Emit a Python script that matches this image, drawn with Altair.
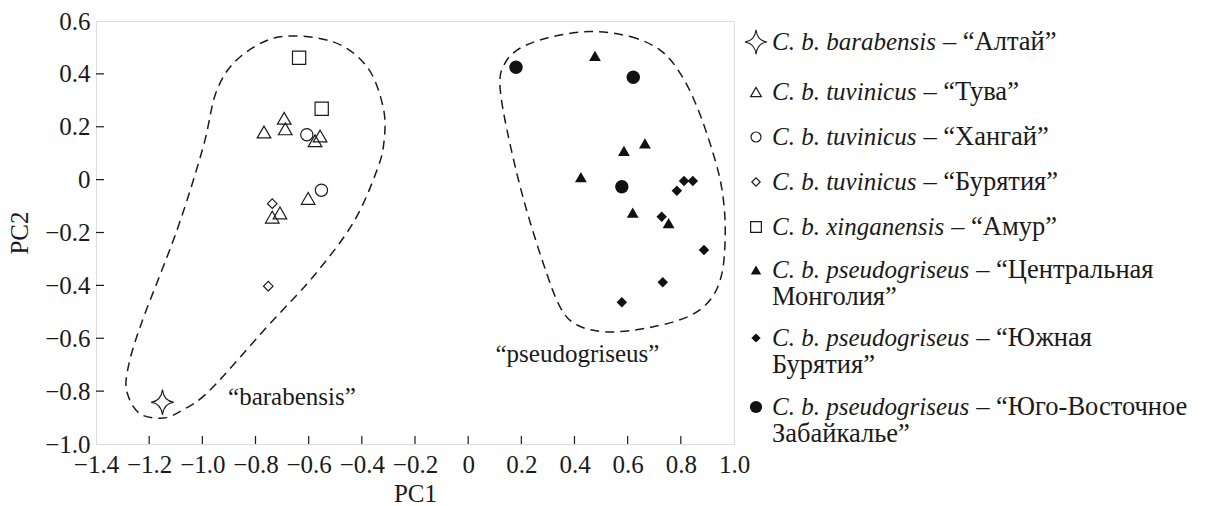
import altair as alt
import pandas as pd

# ---------------- data ----------------
# C. b. barabensis – "Алтай" (open four-point star)
altai_pc1 = [-1.150]
altai_pc2 = [-0.842]
# C. b. tuvinicus – "Тува" (open triangles)
tuva_pc1 = [-0.768, -0.692, -0.688, -0.557, -0.576, -0.602, -0.708, -0.737]
tuva_pc2 = [0.180, 0.232, 0.192, 0.165, 0.147, -0.071, -0.126, -0.142]
# C. b. tuvinicus – "Хангай" (open circles)
khangai_pc1 = [-0.607, -0.552]
khangai_pc2 = [0.170, -0.040]
# C. b. tuvinicus – "Бурятия" (open diamonds)
buryatia_pc1 = [-0.737, -0.752]
buryatia_pc2 = [-0.091, -0.403]
# C. b. xinganensis – "Амур" (open squares)
amur_pc1 = [-0.636, -0.551]
amur_pc2 = [0.461, 0.268]
# C. b. pseudogriseus – "Центральная Монголия" (filled triangles)
cmong_pc1 = [0.477, 0.665, 0.586, 0.424, 0.619, 0.754]
cmong_pc2 = [0.468, 0.137, 0.109, 0.009, -0.125, -0.165]
# C. b. pseudogriseus – "Южная Бурятия" (filled diamonds)
sbur_pc1 = [0.812, 0.845, 0.785, 0.728, 0.887, 0.732, 0.578]
sbur_pc2 = [-0.005, -0.005, -0.042, -0.140, -0.266, -0.388, -0.464]
# C. b. pseudogriseus – "Юго-Восточное Забайкалье" (filled circles)
sezab_pc1 = [0.180, 0.621, 0.578]
sezab_pc2 = [0.425, 0.387, -0.027]

# hand-drawn dashed outlines (vertices, PC units)
barab_hull_pc1 = [-0.708, -0.508, -0.380, -0.320, -0.316, -0.343, -0.433, -0.584, -0.757,
                  -0.971, -1.073, -1.148, -1.234, -1.280, -1.283, -1.234, -1.095, -0.997,
                  -0.945, -0.858]
barab_hull_pc2 = [0.540, 0.521, 0.426, 0.275, 0.150, 0.036, -0.164, -0.368, -0.557,
                  -0.796, -0.871, -0.902, -0.886, -0.815, -0.731, -0.557, -0.190, 0.123,
                  0.339, 0.464]
pseudo_hull_pc1 = [0.459, 0.609, 0.722, 0.797, 0.861, 0.921, 0.955, 0.967, 0.955, 0.910,
                   0.823, 0.673, 0.523, 0.410, 0.346, 0.282, 0.206, 0.146, 0.120, 0.131,
                   0.184, 0.297]
pseudo_hull_pc2 = [0.560, 0.541, 0.490, 0.403, 0.275, 0.101, -0.039, -0.190, -0.353, -0.455,
                   -0.520, -0.561, -0.576, -0.550, -0.482, -0.315, -0.066, 0.188, 0.350,
                   0.426, 0.490, 0.536]

cluster_labels = ["\u201cbarabensis\u201d", "\u201cpseudogriseus\u201d"]
cluster_label_pc1 = [-0.663, 0.411]
cluster_label_pc2 = [-0.852, -0.690]

x_tick_values = [-1.4, -1.2, -1.0, -0.8, -0.6, -0.4, -0.2, 0, 0.2, 0.4, 0.6, 0.8, 1.0]
y_tick_values = [-1.0, -0.8, -0.6, -0.4, -0.2, 0, 0.2, 0.4, 0.6]
x_inner_ticks = [-1.2, -1.0, -0.8, -0.6, -0.4, -0.2, 0, 0.2, 0.4, 0.6, 0.8]
y_inner_ticks = [-0.8, -0.6, -0.4, -0.2, 0, 0.2, 0.4]

legend_taxa = ["C. b. barabensis", "C. b. tuvinicus", "C. b. tuvinicus", "C. b. tuvinicus",
               "C. b. xinganensis", "C. b. pseudogriseus", "C. b. pseudogriseus",
               "C. b. pseudogriseus"]
legend_places = [["\u2013 \u201cАлтай\u201d"], ["\u2013 \u201cТува\u201d"],
                 ["\u2013 \u201cХангай\u201d"], ["\u2013 \u201cБурятия\u201d"],
                 ["\u2013 \u201cАмур\u201d"],
                 ["\u2013 \u201cЦентральная", "Монголия\u201d"],
                 ["\u2013 \u201cЮжная", "Бурятия\u201d"],
                 ["\u2013 \u201cЮго-Восточное", "Забайкалье\u201d"]]

# ---------------- layout & style ----------------
FONT = "'Liberation Serif', 'Times New Roman', 'DejaVu Serif', serif"
FS = 25
FS_CYR = 26.5
INK = "#1a1a1a"
PLOT_LEFT, PLOT_TOP, W, H = 96, 21, 638, 423
CANVAS_W, CANVAS_H = 1211, 506
LEG_SYM_X, LEG_TEXT_X = 756, 772
LEG_ROW_Y = [42, 92, 137, 182, 227, 270, 338, 407]
LEG_LINE_DY = 27

STAR = "M0,-1 Q0.1,-0.1 0.9,0 Q0.1,0.1 0,1 Q-0.1,0.1 -0.9,0 Q-0.1,-0.1 0,-1 Z"

groups = [
    # pc1, pc2, shape, kind, plot size, legend size
    (altai_pc1, altai_pc2, STAR, "star", 640, 600),
    (tuva_pc1, tuva_pc2, "triangle-up", "open", 185, 115),
    (khangai_pc1, khangai_pc2, "circle", "open", 150, 100),
    (buryatia_pc1, buryatia_pc2, "diamond", "open", 90, 70),
    (amur_pc1, amur_pc2, "square", "open", 175, 115),
    (cmong_pc1, cmong_pc2, "triangle-up", "filled", 140, 110),
    (sbur_pc1, sbur_pc2, "diamond", "filled", 110, 85),
    (sezab_pc1, sezab_pc2, "circle", "filled", 180, 150),
]

X_SCALE = alt.Scale(domain=[-1.4, 1.0], nice=False, zero=False)
Y_SCALE = alt.Scale(domain=[-1.0, 0.6], nice=False, zero=False)
LX_SCALE = alt.Scale(domain=[0, W], range=[0, W], nice=False, zero=False)
LY_SCALE = alt.Scale(domain=[0, H], range=[0, H], nice=False, zero=False)

label_expr = "datum.value == 0 ? '0' : format(datum.value, '.1f')"

x_axis = alt.Axis(values=x_tick_values, title="PC1", labelExpr=label_expr, ticks=False,
                  tickSize=0, domain=False, grid=False, labelPadding=8, labelFont=FONT,
                  labelFontSize=FS, labelColor=INK, labelFlush=False, labelOverlap=False,
                  titleFont=FONT, titleFontSize=FS, titleFontWeight="normal", titleColor=INK,
                  titleY=57, titleBaseline="alphabetic")
y_axis = alt.Axis(values=y_tick_values, title="PC2", labelExpr=label_expr, ticks=False,
                  tickSize=0, domain=False, grid=False, labelPadding=6, labelFont=FONT,
                  labelFontSize=FS, labelColor=INK, labelFlush=False, labelOverlap=False,
                  titleFont=FONT, titleFontSize=FS, titleFontWeight="normal", titleColor=INK,
                  titleX=-69, titleBaseline="alphabetic")


def pc_enc(axes=False):
    return dict(
        x=alt.X("pc1:Q", scale=X_SCALE, axis=x_axis if axes else None),
        y=alt.Y("pc2:Q", scale=Y_SCALE, axis=y_axis if axes else None),
    )


layers = []

# outlines (the first layer carries the axes)
for i, (hx, hy) in enumerate([(barab_hull_pc1, barab_hull_pc2), (pseudo_hull_pc1, pseudo_hull_pc2)]):
    df = pd.DataFrame({"pc1": hx, "pc2": hy, "i": list(range(len(hx)))})
    layers.append(
        alt.Chart(df).mark_line(interpolate="cardinal-closed", strokeDash=[9, 6],
                                stroke=INK, strokeWidth=1.5)
        .encode(order=alt.Order("i:Q"), **pc_enc(axes=(i == 0)))
    )

# inward ticks
layers.append(
    alt.Chart(pd.DataFrame({"pc1": x_inner_ticks})).mark_rule(stroke=INK, strokeWidth=1.2)
    .encode(x=alt.X("pc1:Q", scale=X_SCALE, axis=None), y=alt.value(H), y2=alt.value(H - 8))
)
layers.append(
    alt.Chart(pd.DataFrame({"pc2": y_inner_ticks})).mark_rule(stroke=INK, strokeWidth=1.2)
    .encode(y=alt.Y("pc2:Q", scale=Y_SCALE, axis=None), x=alt.value(0), x2=alt.value(8))
)


def point_mark(shape, kind):
    if kind == "star":
        return alt.Chart().mark_point(shape=shape, filled=True, fill="white", stroke=INK,
                                      strokeWidth=1.1, opacity=1)
    if kind == "open":
        return alt.Chart().mark_point(shape=shape, filled=False, stroke=INK,
                                      strokeWidth=1.2, opacity=1)
    return alt.Chart().mark_point(shape=shape, filled=True, fill="#111111", opacity=1)


# data points
for pc1, pc2, shape, kind, psize, lsize in groups:
    df = pd.DataFrame({"pc1": pc1, "pc2": pc2})
    m = point_mark(shape, kind)
    layers.append(m.properties(data=df).encode(size=alt.value(psize), **pc_enc()))

# cluster labels
layers.append(
    alt.Chart(pd.DataFrame({"pc1": cluster_label_pc1, "pc2": cluster_label_pc2,
                            "t": cluster_labels}))
    .mark_text(font=FONT, fontSize=FS, align="center", baseline="alphabetic", color=INK)
    .encode(text="t:N", **pc_enc())
)

# ---------------- legend ----------------
ITALIC_W = {" ": 250, ".": 250, "C": 667, "a": 500, "b": 500, "c": 444, "d": 500, "e": 444,
            "g": 500, "i": 278, "n": 500, "o": 500, "p": 500, "r": 389, "s": 389, "t": 278,
            "u": 500, "v": 444, "x": 444}


def italic_width(s):
    return sum(ITALIC_W.get(ch, 500) for ch in s) / 1000.0 * FS


ital_rows, reg_rows = [], []
for k, (taxon, place) in enumerate(zip(legend_taxa, legend_places)):
    row_y = LEG_ROW_Y[k] - PLOT_TOP
    ital_rows.append({"lx": LEG_TEXT_X - PLOT_LEFT, "ly": row_y, "t": taxon})
    reg_rows.append({"lx": LEG_TEXT_X - PLOT_LEFT + italic_width(taxon) + 0.28 * FS,
                     "ly": row_y, "t": place[0]})
    for j, line in enumerate(place[1:], start=1):
        reg_rows.append({"lx": LEG_TEXT_X - PLOT_LEFT, "ly": row_y + j * LEG_LINE_DY, "t": line})

lenc = dict(x=alt.X("lx:Q", scale=LX_SCALE, axis=None), y=alt.Y("ly:Q", scale=LY_SCALE, axis=None))

for k, (pc1, pc2, shape, kind, psize, lsize) in enumerate(groups):
    df = pd.DataFrame({"lx": [LEG_SYM_X - PLOT_LEFT], "ly": [LEG_ROW_Y[k] - PLOT_TOP]})
    m = point_mark(shape, kind)
    layers.append(m.properties(data=df).encode(size=alt.value(lsize), **lenc))

layers.append(
    alt.Chart(pd.DataFrame(ital_rows))
    .mark_text(font=FONT, fontSize=FS, fontStyle="italic", align="left", baseline="middle", color=INK)
    .encode(text="t:N", **lenc)
)
layers.append(
    alt.Chart(pd.DataFrame(reg_rows))
    .mark_text(font=FONT, fontSize=FS_CYR, align="left", baseline="middle", color=INK)
    .encode(text="t:N", **lenc)
)

chart = (
    alt.layer(*layers)
    .resolve_scale(x="independent", y="independent")
    .properties(
        width=W, height=H,
        padding={"left": PLOT_LEFT, "top": PLOT_TOP,
                 "right": CANVAS_W - PLOT_LEFT - W, "bottom": CANVAS_H - PLOT_TOP - H},
        autosize=alt.AutoSizeParams(type="none"),
    )
    .configure_view(stroke=INK, strokeWidth=1.3)
    .configure(background="white", font=FONT)
)

chart.save("out.html", embed_options={"renderer": "svg", "actions": False})
